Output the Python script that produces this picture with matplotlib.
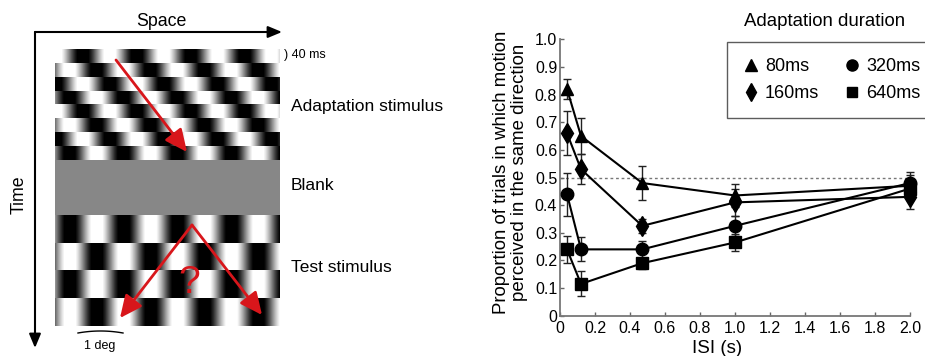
import numpy as np
import matplotlib
matplotlib.use('Agg')
import matplotlib.pyplot as plt
from matplotlib.lines import Line2D
from matplotlib.patches import Rectangle

plt.rcParams['font.family'] = ['Liberation Sans', 'DejaVu Sans']

# data
isi = [0.04, 0.12, 0.47, 1.0, 2.0]
p80 = [0.82, 0.65, 0.48, 0.435, 0.47]
e80 = [0.035, 0.065, 0.06, 0.04, 0.04]
p160 = [0.66, 0.53, 0.325, 0.41, 0.43]
e160 = [0.08, 0.055, 0.025, 0.05, 0.045]
p320 = [0.44, 0.24, 0.24, 0.325, 0.48]
e320 = [0.078, 0.043, 0.03, 0.035, 0.04]
p640 = [0.24, 0.115, 0.19, 0.265, 0.46]
e640 = [0.05, 0.045, 0.02, 0.03, 0.03]

labels = ['80ms', '160ms', '320ms', '640ms']
markers = ['^', 'd', 'o', 's']
msizes = [9, 10, 9, 8]

# stimulus schematic parameters (pixels)
period = 54.0
n_adapt = 8
n_test = 4

W, H = 925, 356
fig = plt.figure(figsize=(W / 100, H / 100), dpi=100)

# ---- left panel: stimulus schematic, drawn in pixel coords ----
ax0 = fig.add_axes([0, 0, 1, 1])
ax0.axis('off')

xs = np.linspace(55, 280, 450)


def grating_row(center):
    return 0.5 - 0.5 * np.clip(1.25 * np.cos(2 * np.pi * (xs - center) / period), -1, 1)


adapt = np.array([grating_row(83 + k * period / 4) for k in range(n_adapt)])
test = np.array([grating_row(70 + (k % 2) * period / 2) for k in range(n_test)])

ax0.imshow(adapt, extent=(55, 280, 160, 49), aspect='auto', cmap='gray',
           vmin=0, vmax=1, interpolation='nearest')
ax0.add_patch(Rectangle((55, 160), 225, 55, facecolor='#878787', edgecolor='none'))
ax0.imshow(test, extent=(55, 280, 326, 215), aspect='auto', cmap='gray',
           vmin=0, vmax=1, interpolation='nearest')
ax0.set_xlim(0, W)
ax0.set_ylim(H, 0)

blk = dict(arrowstyle='-|>,head_length=0.6,head_width=0.25', color='black',
           lw=1.5, mutation_scale=14, shrinkA=0, shrinkB=0)
ax0.annotate('', xy=(282, 32), xytext=(35, 32), arrowprops=blk)
ax0.annotate('', xy=(35, 348), xytext=(35, 32), arrowprops=blk)
ax0.text(161, 21, 'Space', fontsize=12.8, ha='center', va='center')
ax0.text(19, 195, 'Time', fontsize=12.8, ha='center', va='center', rotation=90)

red = '#d8161b'
rarr = dict(arrowstyle='-|>,head_length=0.9,head_width=0.42', color=red,
            lw=2, mutation_scale=15, shrinkA=0, shrinkB=0)
ax0.annotate('', xy=(187, 152), xytext=(116, 60), arrowprops=rarr)
ax0.annotate('', xy=(120, 318), xytext=(192, 225), arrowprops=rarr)
ax0.annotate('', xy=(262, 315), xytext=(192, 225), arrowprops=rarr)
ax0.text(189, 283, '?', fontsize=28, color=red, ha='center', va='center')

ax0.text(284, 55, ') 40 ms', fontsize=9, ha='left', va='center')
ax0.text(291, 107, 'Adaptation stimulus', fontsize=12.5, ha='left', va='center')
ax0.text(291, 186, 'Blank', fontsize=12.5, ha='left', va='center')
ax0.text(291, 268, 'Test stimulus', fontsize=12.5, ha='left', va='center')

bx = np.linspace(78, 123, 40)
ax0.plot(bx, 333 - 2 * (1 - ((bx - 100.5) / 22.5) ** 2), color='black', lw=1)
ax0.text(100, 346, '1 deg', fontsize=9, ha='center', va='center')

# ---- right panel: data ----
ax = fig.add_axes([560 / W, 1 - 315.7 / H, 350 / W, 276.4 / H])
ax.axhline(0.5, color='#777777', lw=1, ls=(0, (2, 2)), zorder=1)

series = [p80, p160, p320, p640]
errs = [e80, e160, e320, e640]
for vals, err, m, ms in zip(series, errs, markers, msizes):
    ax.errorbar(isi, vals, yerr=err, color='black', marker=m, ms=ms, lw=1.5,
                elinewidth=1, ecolor='#222222', capsize=3, capthick=1,
                clip_on=False, zorder=3)

ax.set_xlim(0, 2.0)
ax.set_ylim(0, 1.0)
ax.set_xticks(np.arange(0, 2.01, 0.2))
ax.set_yticks(np.arange(0, 1.01, 0.1))
fmt = lambda v, pos: '0' if abs(v) < 1e-9 else f'{v:.1f}'
ax.xaxis.set_major_formatter(plt.FuncFormatter(fmt))
ax.yaxis.set_major_formatter(plt.FuncFormatter(fmt))
ax.tick_params(direction='in', length=3, width=1, color='#666666', labelsize=11.5)
ax.tick_params(axis='y', pad=2)
ax.tick_params(axis='x', pad=4)
for s in ['top', 'right']:
    ax.spines[s].set_visible(False)
for s in ['left', 'bottom']:
    ax.spines[s].set_color('#777777')
    ax.spines[s].set_linewidth(1.3)

ax.set_ylabel('Proportion of trials in which motion\nperceived in the same direction',
              fontsize=13.4, linespacing=1.05)
ax.yaxis.set_label_coords(-0.092, 0.52)
ax.set_xlabel('ISI (s)', fontsize=13.5)
ax.xaxis.set_label_coords(0.45, -0.088)

handles = [Line2D([], [], marker=m, color='black', ls='none', ms=ms - 1)
           for m, ms in zip(markers, msizes)]
leg = fig.legend(handles, labels, ncol=2, loc='upper left',
                 bbox_to_anchor=(718 / W, 1 - 33 / H), frameon=True,
                 fancybox=False, edgecolor='#333333', fontsize=13,
                 handlelength=0.8, handletextpad=0.4, columnspacing=1.4,
                 borderpad=0.9, labelspacing=0.55)
leg.get_frame().set_linewidth(1.0)
fig.text(825 / W, 1 - 21 / H, 'Adaptation duration', fontsize=13.4,
         ha='center', va='center')

fig.savefig('out.png', dpi=100)
